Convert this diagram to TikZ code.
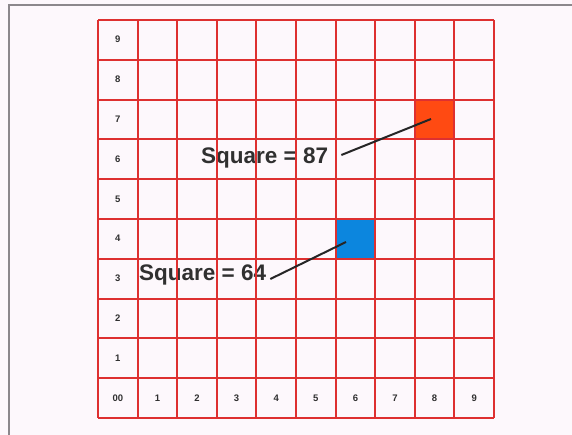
\documentclass[tikz,border=0pt]{standalone}
\usepackage{fontspec}
\setmainfont{Liberation Sans}
\usetikzlibrary{calc,positioning}
\definecolor{gridred}{RGB}{222,48,48}
\definecolor{pagebg}{RGB}{253,248,252}
\definecolor{framegray}{RGB}{140,136,140}
\definecolor{hotorange}{RGB}{255,74,18}
\definecolor{skyblue}{RGB}{12,134,222}
\definecolor{inkgray}{RGB}{48,48,48}
\begin{document}
\begin{tikzpicture}[x=1pt,y=-1pt,
  gridline/.style={draw=gridred,line width=1.9pt},
  axislbl/.style={font=\fontsize{9.5}{9.5}\selectfont\bfseries,text=inkgray,inner sep=0pt},
  sqlbl/.style={font=\fontsize{22.5}{22.5}\selectfont\bfseries,text=inkgray,inner sep=0pt},
  pointer/.style={draw=black!85,line width=2pt}]
% page and frame
\fill[pagebg] (0,0) rectangle (572,435);
\useasboundingbox (0,0) rectangle (572,435);
\draw[framegray,line width=1.6pt] (9,435) -- (9,5) -- (572,5);
% coloured squares
\fill[hotorange] (415.2,99.6) rectangle (454.8,139.4);
\fill[skyblue] (335.6,218.8) rectangle (375.2,258.6);
% labels
\node[sqlbl,anchor=west] (lbl87) at (201,158) {Square = 87};
\node[sqlbl,anchor=west] (lbl64) at (139,275) {Square = 64};
% grid
\foreach \i in {0,...,10}{
  \draw[gridline] ({98+39.6*\i},20) -- ({98+39.6*\i},418);
  \draw[gridline] (98,{20+39.8*\i}) -- (494,{20+39.8*\i});
}
% axis numbers
\foreach \k in {1,...,9}{
  \node[axislbl] (row\k) at (117.8,{397.9-39.8*\k}) {\k};
  \node[axislbl] (col\k) at ({117.8+39.6*\k},397.9) {\k};
}
\node[axislbl] (origin) at (117.8,397.9) {00};
% pointers
\coordinate (redpt) at (431,119);
\coordinate (bluept) at (346,242);
\draw[pointer] ([xshift=13pt,yshift=3pt]lbl87.east) -- (redpt);
\draw[pointer] ([xshift=4pt,yshift=-4pt]lbl64.east) -- (bluept);
\end{tikzpicture}
\end{document}
